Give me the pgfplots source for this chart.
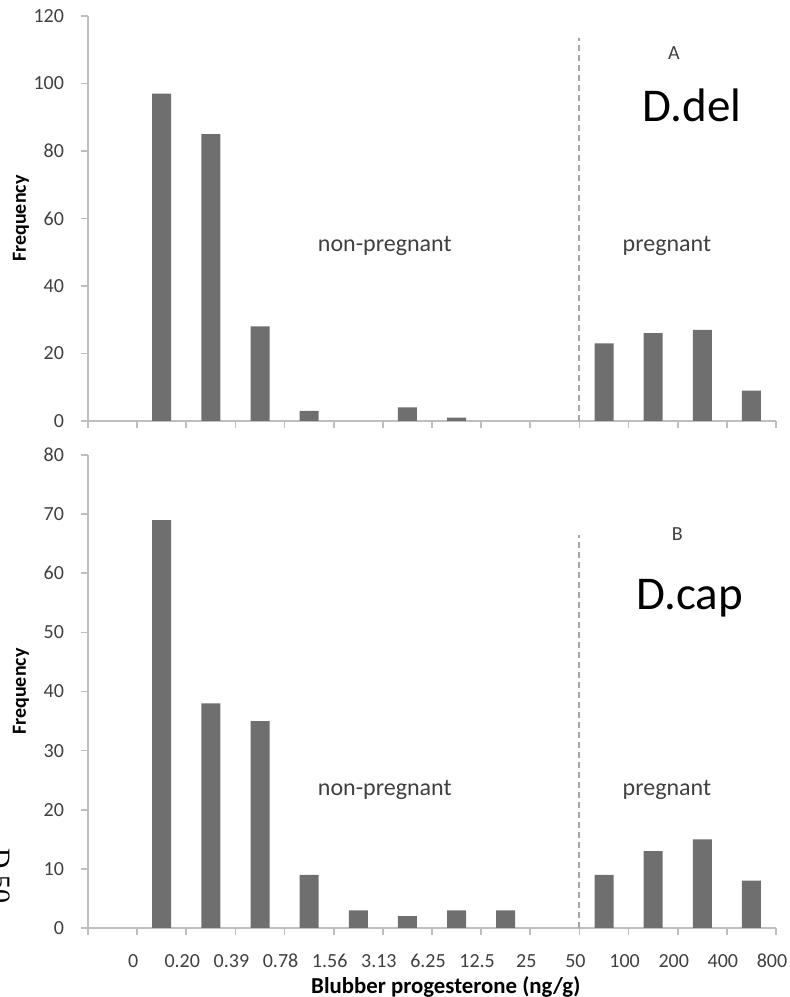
\documentclass[border=0pt]{standalone}
\usepackage{fontspec}
\setmainfont{Carlito}
\newfontfamily\seriffont{Liberation Serif}
\usepackage{pgfplots}
\pgfplotsset{compat=1.18}
\definecolor{barc}{HTML}{6F6F6F}
\definecolor{axc}{HTML}{BFBFBF}
\definecolor{txc}{HTML}{404040}
\definecolor{dashc}{HTML}{A6A6A6}
\pgfplotsset{panel/.style={
  scale only axis, width=344pt,
  xmin=-0.5, xmax=13.5, ymin=0,
  axis x line=bottom, axis y line=left,
  axis line style={-, draw=axc, line width=0.8pt},
  tick style={draw=axc, line width=0.8pt},
  major tick length=3.5pt,
  tick align=outside,
  xtick={-0.5,0.5,...,13.5},
  /pgf/number format/assume math mode=true,
  yticklabel style={font=\fontsize{10}{12}\selectfont, text=txc, xshift=-5pt},
  xticklabel style={font=\fontsize{10}{12}\selectfont, text=txc, yshift=-6pt, xshift=-2pt},
  ylabel={Frequency},
  ylabel style={font=\fontsize{10}{12}\selectfont\bfseries, at={(axis description cs:-0.0974,0.5)}, anchor=center},
  ybar, bar width=9.5pt,
  clip=false,
}}
\begin{document}
\begin{tikzpicture}
\useasboundingbox (0,0) rectangle (395pt,498.5pt);
% Top panel
\begin{axis}[panel, at={(44pt,288pt)}, anchor=south west, height=202.5pt,
  ymax=120, ytick={0,20,...,120}, xticklabels={}]
\addplot[fill=barc, draw=none] coordinates {(1,97) (2,85) (3,28) (4,3) (6,4) (7,1) (10,23) (11,26) (12,27) (13,9)};
\draw[dashc, line width=1pt, dash pattern=on 3pt off 2pt] (axis cs:9.5,0) -- (axis cs:9.5,113.5);
\node[font=\fontsize{12}{14}\selectfont, text=txc] at (axis cs:5.54,51.9) {non-pregnant};
\node[font=\fontsize{12}{14}\selectfont, text=txc] at (axis cs:11.28,51.9) {pregnant};
\node[font=\fontsize{10}{12}\selectfont, text=txc] at (axis cs:11.42,109) {A};
\node[font=\fontsize{23.5}{27}\selectfont, text=black] at (axis cs:11.79,93.6) {D.del};
\end{axis}
% Bottom panel
\begin{axis}[panel, at={(44pt,34.5pt)}, anchor=south west, height=236.5pt,
  ymax=80, ytick={0,10,...,80},
  xticklabels={,0,0.20,0.39,0.78,1.56,3.13,6.25,12.5,25,50,100,200,400,800},
  xlabel={Blubber progesterone (ng/g)},
  xlabel style={font=\fontsize{11.4}{13}\selectfont\bfseries, at={(axis description cs:0.52,0)}, anchor=north, yshift=-21pt}]
\addplot[fill=barc, draw=none] coordinates {(1,69) (2,38) (3,35) (4,9) (5,3) (6,2) (7,3) (8,3) (10,9) (11,13) (12,15) (13,8)};
\draw[dashc, line width=1pt, dash pattern=on 3pt off 2pt] (axis cs:9.5,0) -- (axis cs:9.5,66.5);
\node[font=\fontsize{12}{14}\selectfont, text=txc] at (axis cs:5.54,23.3) {non-pregnant};
\node[font=\fontsize{12}{14}\selectfont, text=txc] at (axis cs:11.28,23.3) {pregnant};
\node[font=\fontsize{10}{12}\selectfont, text=txc] at (axis cs:11.49,66.6) {B};
\node[font=\fontsize{23.5}{27}\selectfont, text=black] at (axis cs:11.75,55.8) {D.cap};
\end{axis}
\node[font=\seriffont\fontsize{14}{16}\selectfont, rotate=-90, anchor=center] at (0.5pt,60.5pt) {D.50};
\end{tikzpicture}
\end{document}
